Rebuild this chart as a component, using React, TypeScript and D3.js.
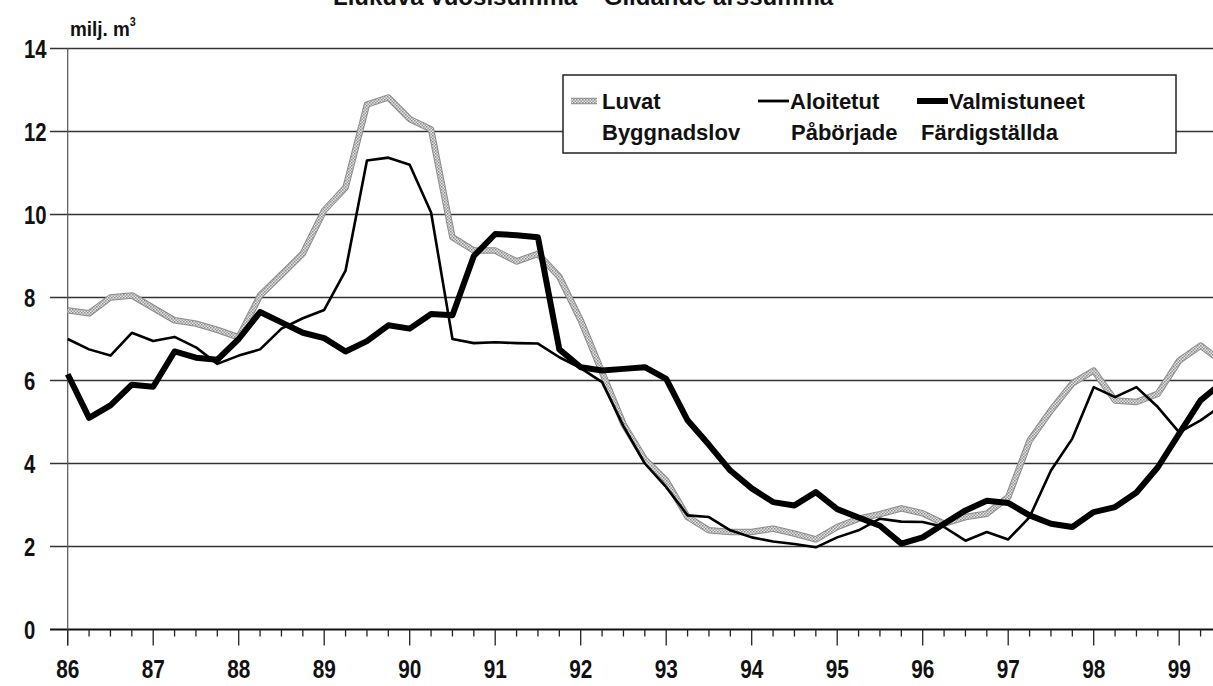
import React from "react";
import * as d3 from "d3";

// Quarterly observations 1986.00 ... 1999.50 (moving annual sum, million m3)
const startYear = 86;
const luvat = [
  7.69, 7.62, 8.0, 8.05, 7.75, 7.45, 7.37, 7.22, 7.04, 8.05,
  8.55, 9.06, 10.1, 10.65, 12.65, 12.82, 12.3, 12.05, 9.45, 9.13,
  9.13, 8.87, 9.05, 8.5, 7.45, 6.2, 4.95, 4.1, 3.59, 2.71,
  2.39, 2.35, 2.35, 2.43, 2.31, 2.17, 2.47, 2.67, 2.78, 2.92,
  2.8, 2.55, 2.71, 2.79, 3.19, 4.55, 5.28, 5.93, 6.24, 5.52,
  5.48, 5.68, 6.48, 6.84, 6.45,
];
const aloitetut = [
  7.0, 6.75, 6.6, 7.15, 6.95, 7.05, 6.8, 6.4, 6.6, 6.75,
  7.25, 7.5, 7.7, 8.65, 11.3, 11.37, 11.2, 10.05, 7.0, 6.9,
  6.92, 6.9, 6.89, 6.56, 6.3, 5.96, 4.9, 4.0, 3.43, 2.75,
  2.71, 2.39, 2.22, 2.12, 2.06, 1.98, 2.22, 2.39, 2.67, 2.6,
  2.59, 2.47, 2.14, 2.35, 2.17, 2.71, 3.83, 4.6, 5.84, 5.6,
  5.84, 5.36, 4.75, 5.04, 5.4,
];
const valmistuneet = [
  6.15, 5.1, 5.4, 5.9, 5.85, 6.7, 6.55, 6.5, 7.0, 7.65,
  7.4, 7.15, 7.02, 6.7, 6.95, 7.33, 7.25, 7.6, 7.57, 9.0,
  9.53, 9.5, 9.45, 6.75, 6.32, 6.24, 6.28, 6.32, 6.04, 5.04,
  4.45, 3.83, 3.4, 3.07, 2.99, 3.31, 2.9, 2.7, 2.5, 2.07,
  2.22, 2.55, 2.87, 3.1, 3.05, 2.75, 2.55, 2.47, 2.83, 2.95,
  3.3, 3.91, 4.72, 5.52, 5.95,
];
const yearLabels = ["86", "87", "88", "89", "90", "91", "92", "93", "94", "95", "96", "97", "98", "99"];
const yTicks = [0, 2, 4, 6, 8, 10, 12, 14];
const legendTop = ["Luvat", "Aloitetut", "Valmistuneet"];
const legendBottom = ["Byggnadslov", "Påbörjade", "Färdigställda"];
const titleText = "Liukuva vuosisumma – Glidande årssumma";
const unitText = "milj. m";

const W = 1213;
const H = 686;
const FONT = "'Liberation Sans', Arial, sans-serif";

export default function App() {
  const x = d3.scaleLinear().domain([86, 99.5]).range([67.7, 67.7 + 13.5 * 85.5]);
  const y = d3.scaleLinear().domain([0, 14]).range([629.5, 48.5]);
  const t = (i: number) => startYear + i * 0.25;
  const line = d3
    .line<number>()
    .x((_, i) => x(t(i)))
    .y((d) => y(d));

  const quarters = d3.range(0, 54).map((i) => startYear + i * 0.25);
  const y0 = y(0);

  return (
    <svg
      width={W}
      height={H}
      style={{ position: "absolute", left: 0, top: 0, background: "#fff" }}
      fontFamily={FONT}
    >
      <defs>
        <pattern id="stip" width="3" height="3" patternUnits="userSpaceOnUse">
          <rect width="3" height="3" fill="#e4e4e4" />
          <rect width="1.5" height="1.5" fill="#8a8a8a" />
          <rect x="1.5" y="1.5" width="1.5" height="1.5" fill="#9a9a9a" />
        </pattern>
        <clipPath id="plotclip">
          <rect x={0} y={0} width={W} height={H} />
        </clipPath>
      </defs>

      {/* title (clipped by top edge, as in the scanned original) */}
      <text x={333} y={5} fontSize={24} fontWeight="bold" fill="#111">
        {titleText}
      </text>
      <text
        fontSize={21}
        fontWeight="bold"
        fill="#111"
        transform="translate(70,36) scale(0.9,1)"
      >
        {unitText}
        <tspan fontSize={12} dy={-10}>3</tspan>
      </text>

      {/* gridlines */}
      {yTicks.map((v) => (
        <line
          key={"g" + v}
          x1={50}
          x2={W}
          y1={y(v)}
          y2={y(v)}
          stroke={v === 0 ? "#111" : "#333"}
          strokeWidth={v === 0 ? 2 : 1.6}
        />
      ))}
      {/* y axis line */}
      <line x1={x(86)} x2={x(86)} y1={y(14)} y2={y0 + 16} stroke="#555" strokeWidth={1.2} />

      {/* y labels */}
      {yTicks.map((v) => (
        <text
          key={"yl" + v}
          transform={`translate(24,${y(v) + 9}) scale(0.78,1)`}
          fontSize={26}
          fontWeight="bold"
          fill="#111"
        >
          {v}
        </text>
      ))}

      {/* x ticks */}
      {quarters.map((q, i) => (
        <line
          key={"xt" + i}
          x1={x(q)}
          x2={x(q)}
          y1={y0}
          y2={y0 + (i % 4 === 0 ? 16 : 7)}
          stroke="#222"
          strokeWidth={1.3}
        />
      ))}
      {yearLabels.map((lab, i) => (
        <text
          key={"xl" + lab}
          transform={`translate(${x(86 + i)},678) scale(0.8,1)`}
          textAnchor="middle"
          fontSize={26}
          fontWeight="bold"
          fill="#111"
        >
          {lab}
        </text>
      ))}

      {/* series */}
      <g clipPath="url(#plotclip)" fill="none" strokeLinejoin="round">
        <path d={line(luvat) || ""} stroke="#8c8c8c" strokeWidth={6.5} />
        <path d={line(luvat) || ""} stroke="url(#stip)" strokeWidth={4.5} />
        <path d={line(aloitetut) || ""} stroke="#000" strokeWidth={2.6} />
        <path d={line(valmistuneet) || ""} stroke="#000" strokeWidth={6} />
      </g>

      {/* legend */}
      <rect x={563} y={75} width={613} height={78} fill="#fff" stroke="#222" strokeWidth={1.5} />
      <line x1={571} x2={597} y1={101} y2={101} stroke="#8c8c8c" strokeWidth={6.5} />
      <line x1={571} x2={597} y1={101} y2={101} stroke="url(#stip)" strokeWidth={4.5} />
      <line x1={758} x2={789} y1={101} y2={101} stroke="#000" strokeWidth={2.8} />
      <line x1={917} x2={948} y1={101} y2={101} stroke="#000" strokeWidth={6} />
      {legendTop.map((s, i) => (
        <text key={"lt" + s} x={[602, 790, 949][i]} y={109} fontSize={22} fontWeight="bold" fill="#111">
          {s}
        </text>
      ))}
      {legendBottom.map((s, i) => (
        <text key={"lb" + s} x={[602, 791, 921][i]} y={140} fontSize={22} fontWeight="bold" fill="#111">
          {s}
        </text>
      ))}
    </svg>
  );
}
